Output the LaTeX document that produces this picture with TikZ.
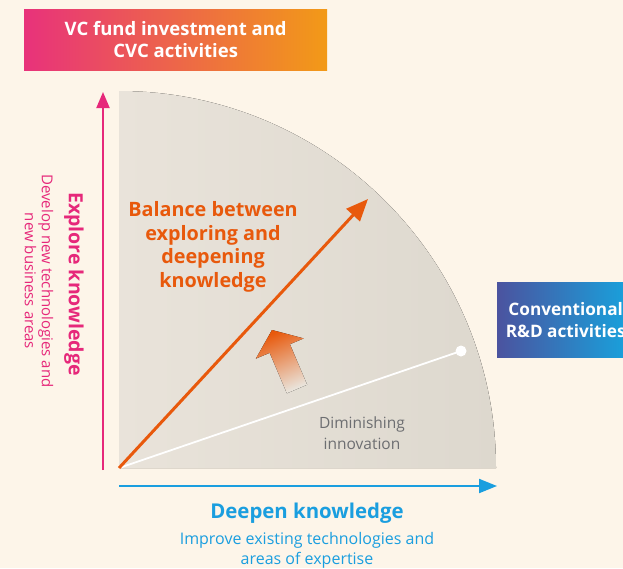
\documentclass[tikz,border=0pt]{standalone}
\usepackage{fontspec}
\setmainfont{Open Sans}
\usetikzlibrary{arrows.meta}
\definecolor{bgc}{HTML}{FDF5E9}
\definecolor{qa}{HTML}{E9E3DA}
\definecolor{qb}{HTML}{DDD8CE}
\definecolor{pinkax}{HTML}{E6287A}
\definecolor{orangeln}{HTML}{E8590C}
\definecolor{blueax}{HTML}{1A9EDF}
\definecolor{graytx}{HTML}{6D6E71}
\definecolor{boxpink}{HTML}{E8327B}
\definecolor{boxorange}{HTML}{F29A17}
\definecolor{boxviolet}{HTML}{4B539F}
\definecolor{boxblue}{HTML}{16A5DF}
\tikzset{
  gradbox/.style={inner sep=0pt, align=center, text=white, font=\fontsize{18.5}{22}\selectfont\bfseries},
  lbl/.style={inner sep=0pt, align=center},
}
\begin{document}
\begin{tikzpicture}[x=1pt,y=1pt]
\useasboundingbox[fill=bgc] (0,0) rectangle (623,-568);
\coordinate (O) at (119,-468);
\coordinate (Q) at (119,-91);
\fill[left color=qa,right color=qb] (O) -- (Q) arc[start angle=90,end angle=0,radius=377] -- cycle;

% boxes
\node[gradbox, minimum width=303, minimum height=61, left color=boxpink, right color=boxorange, anchor=north west] (vc) at (24,-9) {VC fund investment and\\CVC activities};
\node[gradbox, font=\fontsize{17.2}{22}\selectfont\bfseries, minimum width=137, minimum height=75, left color=boxviolet, right color=boxblue, anchor=north west] (rd) at (497,-282) {Conventional\\R\&D activities};

% axes
\coordinate (yb) at (103,-470);
\coordinate (yt) at (103,-92);
\draw[pinkax, line width=2, -{Triangle[length=16,width=13]}] (yb) -- (yt);
\coordinate (xb) at (119,-486);
\coordinate (xt) at (497,-486);
\draw[blueax, line width=2, -{Triangle[length=18,width=14]}] (xb) -- (xt);

% white line
\coordinate (W) at (461,-351);
\draw[white, line width=1.8] (O) -- (W);
\fill[white] (W) circle[radius=5.5];

% orange arrow
\coordinate (T) at (368,-199);
\draw[orangeln, line width=3, -{Triangle[length=22,width=18]}] (O) -- (T);

% fat gradient arrow
\fill[top color=orangeln, bottom color=qa, shading angle=23]
  (286.9,-393.3) -- (269.7,-352.8) -- (255.9,-358.6) -- (272,-330) -- (303.7,-338.4) -- (289.9,-344.2) -- (307.1,-384.7) -- cycle;

% texts
\node[lbl, rotate=-90, text=pinkax, font=\fontsize{19.5}{22}\selectfont\bfseries] (ek) at (74,-284) {Explore knowledge};
\node[lbl, rotate=-90, text=pinkax, font=\fontsize{15}{17}\selectfont] (dev) at (39,-281) {Develop new technologies and\\new business areas};
\node[lbl, text=orangeln, font=\fontsize{19.8}{23.5}\selectfont\bfseries] (bal) at (213,-247) {Balance between\\exploring and\\deepening\\knowledge};
\node[lbl, text=graytx, font=\fontsize{15.5}{21}\selectfont] (dim) at (362,-433) {Diminishing\\innovation};
\node[lbl, text=blueax, font=\fontsize{20.4}{22}\selectfont\bfseries] (dk) at (307,-513) {Deepen knowledge};
\node[lbl, text=blueax, font=\fontsize{16}{20}\selectfont] (imp) at (307,-550) {Improve existing technologies and\\areas of expertise};
\end{tikzpicture}
\end{document}
